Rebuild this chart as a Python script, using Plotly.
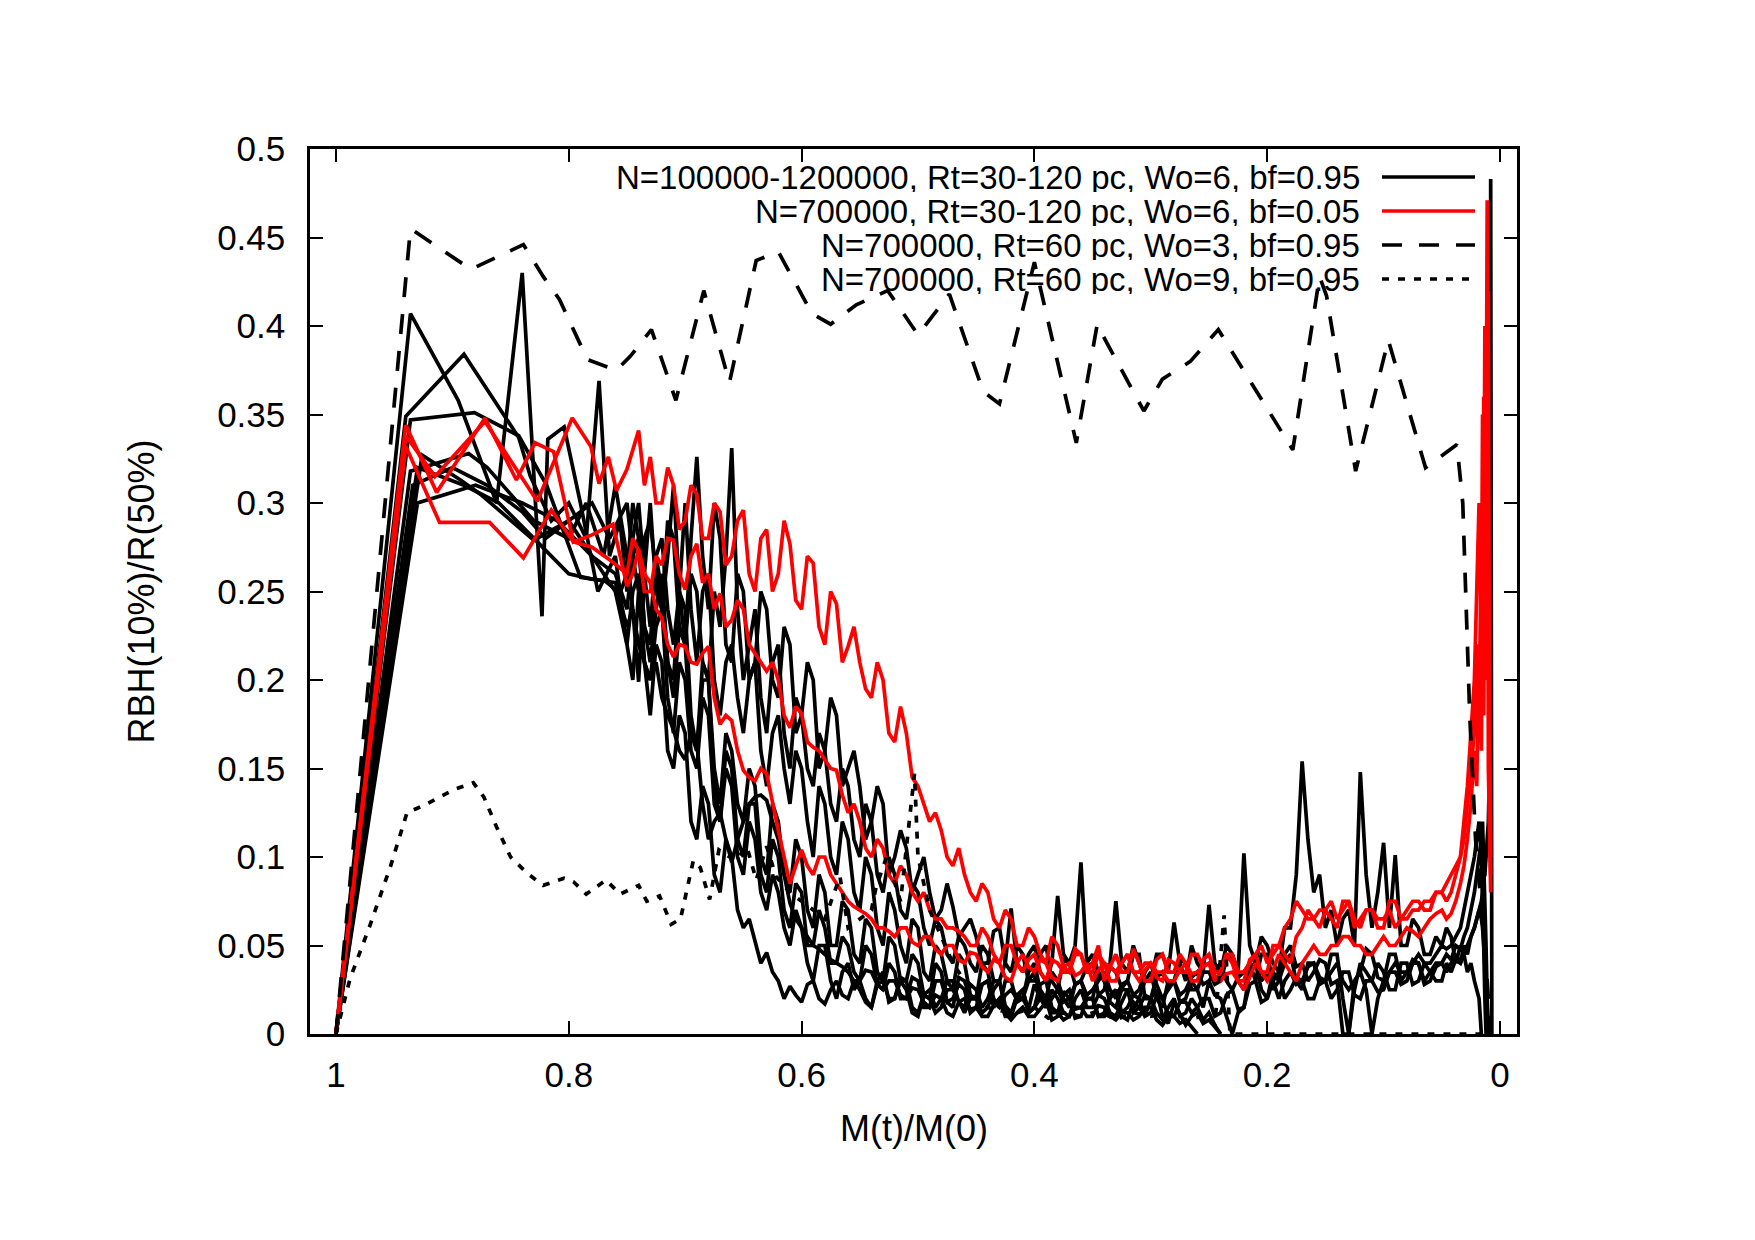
import plotly.graph_objects as go

# ---------------- data ----------------
# common sampling grid (late evolution, M(t)/M(0)) shared by the N-body runs
GRID = [0.750, 0.745, 0.740, 0.735, 0.730, 0.725, 0.720, 0.715, 0.710, 0.705,
        0.700, 0.695, 0.690, 0.685, 0.680, 0.675, 0.670, 0.665, 0.660, 0.655,
        0.650, 0.645, 0.640, 0.635, 0.630, 0.625, 0.620, 0.615, 0.610, 0.605,
        0.600, 0.595, 0.590, 0.585, 0.580, 0.575, 0.570, 0.565, 0.560, 0.555,
        0.550, 0.545, 0.540, 0.535, 0.530, 0.525, 0.520, 0.515, 0.510, 0.505,
        0.500, 0.495, 0.490, 0.485, 0.480, 0.475, 0.470, 0.465, 0.460, 0.455,
        0.450, 0.445, 0.440, 0.435, 0.430, 0.425, 0.420, 0.415, 0.410, 0.405,
        0.400, 0.395, 0.390, 0.385, 0.380, 0.375, 0.370, 0.365, 0.360, 0.355,
        0.350, 0.345, 0.340, 0.335, 0.330, 0.325, 0.320, 0.315, 0.310, 0.305,
        0.300, 0.295, 0.290, 0.285, 0.280, 0.275, 0.270, 0.265, 0.260, 0.255,
        0.250, 0.245, 0.240, 0.235, 0.230, 0.225, 0.220, 0.215, 0.210, 0.205,
        0.200, 0.195, 0.190, 0.185, 0.180, 0.175, 0.170, 0.165, 0.160, 0.155,
        0.150, 0.145, 0.140, 0.135, 0.130, 0.125, 0.120, 0.115, 0.110, 0.105,
        0.100, 0.095, 0.090, 0.085, 0.080, 0.075, 0.070, 0.065, 0.060, 0.055,
        0.050, 0.046, 0.042, 0.038, 0.034, 0.031, 0.028, 0.025, 0.022, 0.020,
        0.018, 0.016, 0.015, 0.014, 0.013, 0.012, 0.011, 0.010, 0.009, 0.008,
        0.007, 0.006]

# black runs: N=100000-1200000, Rt=30-120 pc, Wo=6, bf=0.95
k1_x0 = [1.0, 0.936, 0.895, 0.862, 0.84, 0.823, 0.818, 0.804, 0.79, 0.775, 0.76]
k1_y0 = [0.0, 0.407, 0.358, 0.30, 0.43, 0.236, 0.336, 0.343, 0.30, 0.25, 0.27]
k1_y = [0.22, 0.25, 0.26, 0.21, 0.20, 0.23, 0.24, 0.19, 0.17, 0.21,
        0.20, 0.16, 0.15, 0.19, 0.18, 0.13, 0.12, 0.15, 0.14, 0.10,
        0.09, 0.12, 0.11, 0.08, 0.07, 0.09, 0.08, 0.06, 0.05, 0.07,
        0.06, 0.04, 0.03, 0.05, 0.05, 0.03, 0.02, 0.035, 0.04, 0.025,
        0.03, 0.02, 0.015, 0.03, 0.035, 0.018, 0.02, 0.032, 0.03, 0.015,
        0.012, 0.022, 0.025, 0.015, 0.02, 0.03, 0.03, 0.018, 0.015, 0.028,
        0.025, 0.015, 0.02, 0.03, 0.03, 0.016, 0.012, 0.022, 0.02, 0.014,
        0.028, 0.02, 0.015, 0.025, 0.02, 0.012, 0.01, 0.02, 0.025, 0.015,
        0.015, 0.022, 0.02, 0.012, 0.01, 0.018, 0.025, 0.012, 0.015, 0.022,
        0.02, 0.012, 0.008, 0.015, 0.02, 0.01, 0.012, 0.02, 0.015, 0.008,
        0.012, 0.005, 0.0]

k2_x0 = [1.0, 0.94, 0.89, 0.843, 0.833, 0.815, 0.80, 0.785, 0.774, 0.765, 0.756]
k2_y0 = [0.0, 0.349, 0.384, 0.337, 0.315, 0.29, 0.30, 0.28, 0.369, 0.27, 0.29]
k2_y = [0.25, 0.28, 0.30, 0.26, 0.23, 0.27, 0.28, 0.24, 0.22, 0.25,
        0.30, 0.24, 0.21, 0.25, 0.26, 0.20, 0.18, 0.21, 0.22, 0.19,
        0.17, 0.20, 0.21, 0.16, 0.14, 0.17, 0.18, 0.15, 0.13, 0.16,
        0.15, 0.12, 0.10, 0.14, 0.13, 0.10, 0.09, 0.12, 0.11, 0.08,
        0.07, 0.10, 0.09, 0.06, 0.05, 0.08, 0.07, 0.05, 0.04, 0.065,
        0.06, 0.035, 0.03, 0.05, 0.045, 0.03, 0.025, 0.045, 0.04, 0.022,
        0.02, 0.04, 0.035, 0.02, 0.015, 0.03, 0.03, 0.018, 0.02, 0.035,
        0.04, 0.025, 0.02, 0.035, 0.03, 0.02, 0.015, 0.028, 0.03, 0.02,
        0.02, 0.035, 0.03, 0.018, 0.015, 0.025, 0.025, 0.014, 0.02, 0.03,
        0.035, 0.02, 0.015, 0.03, 0.03, 0.018, 0.02, 0.03, 0.025, 0.015,
        0.03, 0.022, 0.02, 0.01, 0.0, 0.012, 0.015, 0.035, 0.04, 0.025,
        0.02, 0.035, 0.03, 0.04, 0.045, 0.03, 0.025, 0.04, 0.04, 0.028,
        0.03, 0.045, 0.045, 0.02, 0.0, 0.025, 0.04, 0.035, 0.03, 0.04,
        0.035, 0.025, 0.025, 0.04, 0.04, 0.028, 0.03, 0.04, 0.035, 0.03,
        0.03, 0.04, 0.035, 0.042, 0.04, 0.045, 0.05, 0.055, 0.06, 0.065,
        0.07, 0.065, 0.06, 0.05, 0.04, 0.03, 0.015, 0.0]

k3_x0 = [1.0, 0.936, 0.881, 0.843, 0.819, 0.79, 0.769, 0.756]
k3_y0 = [0.0, 0.347, 0.351, 0.338, 0.31, 0.258, 0.256, 0.249]
k3_y = [0.26, 0.30, 0.28, 0.23, 0.22, 0.27, 0.25, 0.21, 0.20, 0.25,
        0.24, 0.18, 0.16, 0.21, 0.20, 0.15, 0.13, 0.17, 0.16, 0.13,
        0.12, 0.15, 0.14, 0.10, 0.09, 0.13, 0.12, 0.09, 0.08, 0.11,
        0.10, 0.07, 0.06, 0.09, 0.08, 0.05, 0.05, 0.075, 0.07, 0.045,
        0.04, 0.065, 0.06, 0.035, 0.03, 0.055, 0.05, 0.03, 0.03, 0.045,
        0.04, 0.022, 0.02, 0.04, 0.035, 0.018, 0.015, 0.032, 0.03, 0.02,
        0.02, 0.012, 0.015, 0.025, 0.03, 0.014, 0.01, 0.02, 0.025, 0.012,
        0.015, 0.028, 0.03, 0.015, 0.012, 0.024, 0.02, 0.009, 0.01, 0.02,
        0.02, 0.01, 0.012, 0.022, 0.025, 0.01, 0.008, 0.018, 0.015, 0.01,
        0.02, 0.025, 0.01, 0.006, 0.018, 0.012, 0.005, 0.01, 0.012, 0.006,
        0.008, 0.004, 0.0]

k4_x0 = [1.0, 0.926, 0.893, 0.876, 0.83, 0.80, 0.78, 0.765]
k4_y0 = [0.0, 0.327, 0.313, 0.305, 0.279, 0.29, 0.30, 0.28]
k4_y = [0.30, 0.27, 0.25, 0.28, 0.29, 0.26, 0.24, 0.27, 0.31, 0.25,
        0.22, 0.28, 0.326, 0.27, 0.24, 0.30, 0.28, 0.22, 0.21, 0.26,
        0.25, 0.20, 0.21, 0.25, 0.24, 0.20, 0.19, 0.23, 0.22, 0.17,
        0.18, 0.21, 0.20, 0.15, 0.16, 0.19, 0.18, 0.14, 0.15, 0.16,
        0.14, 0.11, 0.12, 0.14, 0.13, 0.09, 0.10, 0.115, 0.105, 0.08,
        0.09, 0.10, 0.08, 0.065, 0.07, 0.085, 0.072, 0.055, 0.06, 0.065,
        0.055, 0.04, 0.04, 0.058, 0.06, 0.04, 0.035, 0.05, 0.045, 0.03,
        0.03, 0.045, 0.05, 0.03, 0.025, 0.042, 0.04, 0.028, 0.03, 0.038,
        0.04, 0.022, 0.025, 0.038, 0.035, 0.026, 0.03, 0.045, 0.045, 0.02,
        0.02, 0.032, 0.035, 0.028, 0.03, 0.042, 0.04, 0.025, 0.025, 0.035,
        0.035, 0.028, 0.03, 0.042, 0.045, 0.03, 0.025, 0.038, 0.04, 0.03,
        0.035, 0.025, 0.03, 0.045, 0.05, 0.038, 0.04, 0.03, 0.035, 0.042,
        0.04, 0.028, 0.03, 0.0, 0.0, 0.03, 0.035, 0.048, 0.045, 0.032,
        0.03, 0.045, 0.045, 0.03, 0.035, 0.042, 0.04, 0.028, 0.03, 0.038,
        0.04, 0.045, 0.042, 0.05, 0.048, 0.055, 0.06, 0.07, 0.08, 0.09,
        0.10, 0.11, 0.12, 0.10, 0.08, 0.05, 0.02, 0.0]

k5_x0 = [1.0, 0.936, 0.886, 0.87, 0.83, 0.80, 0.785, 0.77, 0.76]
k5_y0 = [0.0, 0.318, 0.328, 0.32, 0.29, 0.28, 0.30, 0.27, 0.31]
k5_y = [0.27, 0.24, 0.199, 0.26, 0.30, 0.25, 0.24, 0.29, 0.28, 0.23,
        0.22, 0.26, 0.25, 0.21, 0.20, 0.25, 0.23, 0.27, 0.331, 0.24,
        0.20, 0.22, 0.24, 0.19, 0.17, 0.21, 0.22, 0.17, 0.15, 0.19,
        0.18, 0.15, 0.14, 0.17, 0.16, 0.13, 0.12, 0.15, 0.14, 0.11,
        0.10, 0.13, 0.12, 0.09, 0.08, 0.10, 0.09, 0.07, 0.065, 0.085,
        0.08, 0.06, 0.05, 0.065, 0.06, 0.045, 0.04, 0.055, 0.05, 0.04,
        0.035, 0.05, 0.045, 0.03, 0.03, 0.04, 0.071, 0.04, 0.035, 0.045,
        0.05, 0.035, 0.03, 0.04, 0.078, 0.045, 0.04, 0.05, 0.097, 0.04,
        0.045, 0.035, 0.03, 0.04, 0.075, 0.04, 0.035, 0.05, 0.04, 0.03,
        0.03, 0.045, 0.045, 0.035, 0.063, 0.04, 0.03, 0.05, 0.04, 0.035,
        0.073, 0.04, 0.035, 0.05, 0.045, 0.035, 0.102, 0.05, 0.04, 0.055,
        0.05, 0.04, 0.035, 0.06, 0.06, 0.09, 0.154, 0.11, 0.08, 0.09,
        0.06, 0.07, 0.05, 0.065, 0.07, 0.05, 0.148, 0.09, 0.06, 0.08,
        0.108, 0.06, 0.101, 0.05, 0.05, 0.065, 0.06, 0.045, 0.045, 0.055,
        0.05, 0.06, 0.055, 0.04, 0.05, 0.045, 0.035, 0.04, 0.03, 0.025,
        0.02, 0.0]

k6_x0 = [1.0, 0.934, 0.90, 0.87, 0.84, 0.82, 0.80, 0.78, 0.76]
k6_y0 = [0.0, 0.31, 0.32, 0.31, 0.295, 0.28, 0.29, 0.27, 0.26]
k6_y = [0.24, 0.27, 0.28, 0.23, 0.21, 0.24, 0.26, 0.21, 0.19, 0.23,
        0.22, 0.17, 0.16, 0.20, 0.20, 0.14, 0.12, 0.16, 0.15, 0.11,
        0.10, 0.13, 0.13, 0.09, 0.08, 0.11, 0.10, 0.07, 0.06, 0.085,
        0.08, 0.05, 0.05, 0.07, 0.06, 0.04, 0.04, 0.055, 0.05, 0.035,
        0.03, 0.05, 0.045, 0.028, 0.025, 0.04, 0.035, 0.02, 0.02, 0.032,
        0.03, 0.015, 0.015, 0.03, 0.03, 0.018, 0.02, 0.028, 0.025, 0.012,
        0.015, 0.028, 0.03, 0.015, 0.02, 0.01, 0.01, 0.022, 0.025, 0.012,
        0.015, 0.02, 0.02, 0.008, 0.01, 0.022, 0.025, 0.014, 0.015, 0.02,
        0.02, 0.01, 0.01, 0.02, 0.025, 0.012, 0.015, 0.022, 0.02, 0.01,
        0.012, 0.022, 0.02, 0.01, 0.01, 0.018, 0.018, 0.012, 0.015, 0.02,
        0.02, 0.01, 0.012, 0.022, 0.025, 0.014, 0.015, 0.028, 0.03, 0.018,
        0.02, 0.03, 0.035, 0.02, 0.025, 0.032, 0.03, 0.02, 0.02, 0.03,
        0.03, 0.02, 0.025, 0.035, 0.035, 0.022, 0.02, 0.03, 0.03, 0.024,
        0.025, 0.035, 0.035, 0.028, 0.03, 0.04, 0.04, 0.03, 0.035, 0.04,
        0.04, 0.035, 0.04, 0.045, 0.04, 0.05, 0.045, 0.055, 0.06, 0.065,
        0.07, 0.075, 0.08, 0.09, 0.09, 0.10, 0.11, 0.12, 0.15, 0.483,
        0.0]

k7_x0 = [1.0, 0.93, 0.89, 0.86, 0.83, 0.80, 0.78, 0.76]
k7_y0 = [0.0, 0.32, 0.31, 0.30, 0.28, 0.26, 0.257, 0.255]
k7_y = [0.23, 0.24, 0.22, 0.21, 0.20, 0.21, 0.19, 0.18, 0.172, 0.16,
        0.155, 0.17, 0.165, 0.13, 0.11, 0.12, 0.125, 0.11, 0.097, 0.11,
        0.12, 0.13, 0.134, 0.135, 0.132, 0.12, 0.11, 0.09, 0.074, 0.065,
        0.06, 0.055, 0.05, 0.048, 0.045, 0.042, 0.04, 0.038, 0.035, 0.03,
        0.03, 0.036, 0.035, 0.028, 0.025, 0.03, 0.03, 0.022, 0.02, 0.026,
        0.025, 0.018, 0.015, 0.022, 0.02, 0.012, 0.01, 0.018, 0.02, 0.014,
        0.015, 0.01, 0.01, 0.016, 0.02, 0.012, 0.008, 0.012, 0.015, 0.01,
        0.01, 0.014, 0.018, 0.012, 0.012, 0.008, 0.01, 0.015, 0.015, 0.01,
        0.01, 0.016, 0.015, 0.01, 0.008, 0.012, 0.012, 0.008, 0.01, 0.015,
        0.015, 0.008, 0.005, 0.01, 0.01, 0.006, 0.008, 0.004, 0.0]

k8_x0 = [1.0, 0.93, 0.88, 0.84, 0.81, 0.78, 0.76]
k8_y0 = [0.0, 0.30, 0.31, 0.30, 0.29, 0.27, 0.25]
k8_y = [0.22, 0.20, 0.25, 0.21, 0.18, 0.22, 0.21, 0.16, 0.15, 0.18,
        0.17, 0.12, 0.11, 0.14, 0.13, 0.09, 0.08, 0.11, 0.10, 0.07,
        0.06, 0.065, 0.053, 0.04, 0.046, 0.035, 0.03, 0.02, 0.027, 0.022,
        0.018, 0.028, 0.03, 0.02, 0.017, 0.025, 0.03, 0.022, 0.02, 0.03,
        0.025, 0.018, 0.015, 0.028, 0.03, 0.02, 0.02, 0.03, 0.025, 0.012,
        0.01, 0.022, 0.02, 0.012, 0.015, 0.025, 0.025, 0.018, 0.012, 0.02,
        0.02, 0.028, 0.03, 0.018, 0.015, 0.022, 0.025, 0.02, 0.02, 0.03,
        0.035, 0.022, 0.015, 0.02, 0.025, 0.018, 0.02, 0.028, 0.03, 0.022,
        0.025, 0.03, 0.035, 0.025, 0.02, 0.028, 0.03, 0.022, 0.025, 0.035,
        0.04, 0.028, 0.02, 0.025, 0.03, 0.022, 0.025, 0.032, 0.035, 0.028,
        0.03, 0.035, 0.04, 0.03, 0.025, 0.032, 0.035, 0.04, 0.03, 0.045,
        0.045, 0.03, 0.02, 0.03, 0.035, 0.028, 0.03, 0.038, 0.04, 0.032,
        0.03, 0.035, 0.04, 0.03, 0.025, 0.03, 0.035, 0.025, 0.0, 0.02,
        0.03, 0.035, 0.04, 0.035, 0.035, 0.04, 0.045, 0.04, 0.04, 0.045,
        0.05, 0.048, 0.05, 0.055, 0.06, 0.07, 0.08, 0.09, 0.10, 0.11,
        0.12, 0.10, 0.08, 0.05, 0.02, 0.0]

# red runs: N=700000, Rt=30-120 pc, Wo=6, bf=0.05
r1_x0 = [1.0, 0.94, 0.915, 0.872, 0.827, 0.797, 0.781, 0.774, 0.766, 0.759]
r1_y0 = [0.0, 0.338, 0.315, 0.346, 0.301, 0.348, 0.332, 0.311, 0.326, 0.307]
r1_y = [0.319, 0.33, 0.341, 0.31, 0.326, 0.30, 0.30, 0.32, 0.31, 0.285,
        0.29, 0.31, 0.305, 0.28, 0.28, 0.30, 0.295, 0.265, 0.27, 0.29,
        0.296, 0.26, 0.25, 0.28, 0.285, 0.25, 0.26, 0.29, 0.277, 0.245,
        0.24, 0.27, 0.266, 0.23, 0.22, 0.25, 0.243, 0.21, 0.219, 0.23,
        0.21, 0.195, 0.19, 0.21, 0.20, 0.17, 0.165, 0.185, 0.17, 0.145,
        0.14, 0.13, 0.12, 0.125, 0.115, 0.10, 0.095, 0.105, 0.09, 0.08,
        0.075, 0.085, 0.08, 0.065, 0.06, 0.07, 0.065, 0.05, 0.05, 0.06,
        0.055, 0.045, 0.04, 0.055, 0.05, 0.038, 0.035, 0.048, 0.045, 0.035,
        0.04, 0.05, 0.03, 0.038, 0.045, 0.035, 0.035, 0.048, 0.04, 0.03,
        0.03, 0.042, 0.045, 0.035, 0.035, 0.045, 0.04, 0.03, 0.03, 0.042,
        0.045, 0.035, 0.035, 0.045, 0.04, 0.03, 0.03, 0.042, 0.045, 0.035,
        0.035, 0.05, 0.05, 0.045, 0.04, 0.055, 0.06, 0.07, 0.065, 0.06,
        0.07, 0.065, 0.06, 0.075, 0.075, 0.06, 0.065, 0.07, 0.07, 0.06,
        0.06, 0.075, 0.075, 0.065, 0.065, 0.07, 0.07, 0.075, 0.075, 0.08,
        0.08, 0.085, 0.09, 0.095, 0.10, 0.12, 0.14, 0.17, 0.20, 0.25,
        0.30, 0.22, 0.35, 0.25, 0.40, 0.30, 0.471, 0.28, 0.15, 0.10]

r2_x0 = [1.0, 0.94, 0.911, 0.868, 0.839, 0.815, 0.796, 0.78, 0.765]
r2_y0 = [0.0, 0.332, 0.289, 0.289, 0.269, 0.296, 0.278, 0.275, 0.268]
r2_y = [0.26, 0.28, 0.273, 0.25, 0.25, 0.27, 0.265, 0.28, 0.279, 0.26,
        0.251, 0.27, 0.277, 0.255, 0.26, 0.24, 0.249, 0.23, 0.234, 0.245,
        0.24, 0.22, 0.215, 0.21, 0.205, 0.21, 0.20, 0.18, 0.173, 0.185,
        0.181, 0.165, 0.162, 0.16, 0.155, 0.15, 0.149, 0.135, 0.125, 0.13,
        0.12, 0.105, 0.10, 0.11, 0.105, 0.09, 0.085, 0.095, 0.09, 0.08,
        0.075, 0.08, 0.07, 0.065, 0.065, 0.06, 0.06, 0.058, 0.055, 0.05,
        0.05, 0.06, 0.055, 0.045, 0.04, 0.05, 0.05, 0.04, 0.035, 0.042,
        0.045, 0.035, 0.03, 0.042, 0.04, 0.035, 0.035, 0.045, 0.045, 0.035,
        0.035, 0.045, 0.04, 0.03, 0.03, 0.04, 0.045, 0.035, 0.035, 0.04,
        0.04, 0.032, 0.03, 0.042, 0.04, 0.035, 0.035, 0.045, 0.045, 0.038,
        0.04, 0.03, 0.035, 0.045, 0.045, 0.035, 0.035, 0.04, 0.045, 0.05,
        0.04, 0.045, 0.05, 0.06, 0.065, 0.075, 0.07, 0.065, 0.065, 0.07,
        0.07, 0.075, 0.065, 0.07, 0.075, 0.065, 0.06, 0.07, 0.07, 0.065,
        0.065, 0.07, 0.06, 0.065, 0.07, 0.075, 0.075, 0.07, 0.07, 0.08,
        0.08, 0.075, 0.08, 0.09, 0.10, 0.11, 0.13, 0.15, 0.17, 0.22,
        0.18, 0.28, 0.20, 0.36, 0.22, 0.32, 0.20, 0.42, 0.12, 0.09]

r3_x0 = [1.0, 0.94, 0.9135, 0.872, 0.845, 0.829, 0.813, 0.796, 0.78, 0.762]
r3_y0 = [0.0, 0.344, 0.306, 0.348, 0.313, 0.334, 0.329, 0.278, 0.282, 0.288]
r3_y = [0.253, 0.26, 0.274, 0.26, 0.255, 0.24, 0.235, 0.22, 0.213, 0.22,
        0.219, 0.21, 0.209, 0.215, 0.219, 0.19, 0.175, 0.18, 0.177, 0.16,
        0.149, 0.145, 0.143, 0.15, 0.147, 0.13, 0.115, 0.10, 0.085, 0.095,
        0.104, 0.095, 0.09, 0.10, 0.10, 0.09, 0.085, 0.08, 0.075, 0.072,
        0.07, 0.068, 0.065, 0.06, 0.06, 0.058, 0.055, 0.06, 0.06, 0.052,
        0.05, 0.055, 0.055, 0.048, 0.045, 0.05, 0.05, 0.042, 0.04, 0.046,
        0.045, 0.038, 0.035, 0.042, 0.04, 0.032, 0.03, 0.04, 0.045, 0.038,
        0.035, 0.042, 0.04, 0.032, 0.03, 0.038, 0.04, 0.033, 0.035, 0.04,
        0.03, 0.036, 0.04, 0.038, 0.035, 0.04, 0.045, 0.035, 0.03, 0.036,
        0.04, 0.035, 0.035, 0.03, 0.03, 0.036, 0.04, 0.034, 0.035, 0.038,
        0.04, 0.033, 0.03, 0.034, 0.035, 0.03, 0.025, 0.032, 0.04, 0.035,
        0.03, 0.036, 0.045, 0.04, 0.035, 0.03, 0.04, 0.045, 0.05, 0.045,
        0.045, 0.05, 0.05, 0.055, 0.055, 0.05, 0.05, 0.045, 0.045, 0.05,
        0.055, 0.05, 0.05, 0.055, 0.06, 0.058, 0.055, 0.06, 0.065, 0.068,
        0.07, 0.065, 0.068, 0.075, 0.085, 0.095, 0.11, 0.13, 0.16, 0.14,
        0.22, 0.16, 0.28, 0.18, 0.30, 0.20, 0.40, 0.15, 0.10, 0.08]

# dashed run: N=700000, Rt=60 pc, Wo=3, bf=0.95
wo3_x = [1.0, 0.936, 0.884, 0.864, 0.839, 0.822, 0.808, 0.784, 0.759, 0.747, 0.729, 0.708,
         0.684, 0.662, 0.639, 0.62, 0.591, 0.575, 0.553, 0.526, 0.50, 0.473, 0.444, 0.43,
         0.40, 0.364, 0.346, 0.339, 0.306, 0.29, 0.266, 0.242, 0.196, 0.178, 0.155, 0.149,
         0.124, 0.096, 0.064, 0.037, 0.032, 0.026, 0.021, 0.017, 0.012, 0.008]
wo3_y = [0.0, 0.455, 0.432, 0.438, 0.446, 0.428, 0.415, 0.381, 0.375, 0.383, 0.398, 0.358,
         0.42, 0.368, 0.437, 0.442, 0.407, 0.401, 0.412, 0.42, 0.395, 0.418, 0.363, 0.356,
         0.436, 0.334, 0.401, 0.392, 0.352, 0.37, 0.38, 0.398, 0.349, 0.33, 0.428, 0.417,
         0.318, 0.392, 0.32, 0.333, 0.30, 0.18, 0.11, 0.08, 0.04, 0.0]

# dotted run: N=700000, Rt=60 pc, Wo=9, bf=0.95
wo9_x = [1.0, 0.988, 0.971, 0.953, 0.939, 0.925, 0.899, 0.882, 0.873, 0.862, 0.85, 0.836,
         0.822, 0.804, 0.796, 0.785, 0.768, 0.756, 0.74, 0.733, 0.722, 0.712, 0.704, 0.693,
         0.687, 0.679, 0.671, 0.657, 0.647, 0.639, 0.63, 0.622, 0.61, 0.60, 0.59, 0.58,
         0.567, 0.56, 0.55, 0.54, 0.536, 0.527, 0.515, 0.503, 0.50, 0.49, 0.48, 0.47,
         0.46, 0.45, 0.44, 0.428, 0.415, 0.40, 0.388, 0.375, 0.36, 0.345, 0.33, 0.315,
         0.30, 0.285, 0.27, 0.255, 0.245, 0.237, 0.232, 0.225, 0.20, 0.15, 0.10, 0.05, 0.015]
wo9_y = [0.0, 0.031, 0.061, 0.095, 0.125, 0.129, 0.138, 0.142, 0.134, 0.117, 0.10, 0.091,
         0.084, 0.088, 0.086, 0.079, 0.087, 0.079, 0.084, 0.075, 0.078, 0.062, 0.065, 0.098,
         0.094, 0.076, 0.104, 0.098, 0.106, 0.087, 0.106, 0.089, 0.08, 0.075, 0.07, 0.065,
         0.089, 0.06, 0.065, 0.07, 0.083, 0.10, 0.075, 0.147, 0.10, 0.07, 0.055, 0.04,
         0.03, 0.02, 0.015, 0.013, 0.012, 0.015, 0.009, 0.012, 0.01, 0.013, 0.008, 0.012,
         0.01, 0.012, 0.008, 0.01, 0.005, 0.067, 0.0, 0.0, 0.0, 0.0, 0.0, 0.0, 0.0]

X_TICKS = [1, 0.8, 0.6, 0.4, 0.2, 0]
X_TICKTEXT = ["1", "0.8", "0.6", "0.4", "0.2", "0"]
Y_TICKS = [0, 0.05, 0.1, 0.15, 0.2, 0.25, 0.3, 0.35, 0.4, 0.45, 0.5]
Y_TICKTEXT = ["0", "0.05", "0.1", "0.15", "0.2", "0.25", "0.3", "0.35", "0.4", "0.45", "0.5"]

LEGEND_LABELS = ["N=100000-1200000, Rt=30-120 pc, Wo=6, bf=0.95",
                 "N=700000, Rt=30-120 pc, Wo=6, bf=0.05",
                 "N=700000, Rt=60 pc, Wo=3, bf=0.95",
                 "N=700000, Rt=60 pc, Wo=9, bf=0.95"]
LEGEND_COLORS = ["#000000", "#ff0000", "#000000", "#000000"]
LEGEND_DASH = ["solid", "solid", "20px,17px", "7px,9px"]

# ---------------- figure ----------------
FONT = "Liberation Sans, Arial, sans-serif"
LW = 3.7
fig = go.Figure()

black_runs = [(k1_x0, k1_y0, k1_y), (k2_x0, k2_y0, k2_y), (k3_x0, k3_y0, k3_y),
              (k4_x0, k4_y0, k4_y), (k5_x0, k5_y0, k5_y), (k6_x0, k6_y0, k6_y),
              (k7_x0, k7_y0, k7_y), (k8_x0, k8_y0, k8_y)]
red_runs = [(r1_x0, r1_y0, r1_y), (r2_x0, r2_y0, r2_y), (r3_x0, r3_y0, r3_y)]


def add_run(x0, y0, late, color, dash="solid"):
    x = list(x0) + GRID[:len(late)]
    y = list(y0) + list(late)
    fig.add_trace(go.Scatter(x=x, y=y, mode="lines",
                             line=dict(color=color, width=LW, dash=dash),
                             hoverinfo="skip", showlegend=False))


for x0, y0, late in black_runs:
    add_run(x0, y0, late, "#000000")
for x0, y0, late in red_runs:
    add_run(x0, y0, late, "#ff0000")

fig.add_trace(go.Scatter(x=wo3_x, y=wo3_y, mode="lines",
                         line=dict(color="#000000", width=LW, dash=LEGEND_DASH[2]),
                         showlegend=False))
fig.add_trace(go.Scatter(x=wo9_x, y=wo9_y, mode="lines",
                         line=dict(color="#000000", width=LW, dash=LEGEND_DASH[3]),
                         showlegend=False))

# layout geometry (pixels)
W, H = 1755, 1240
L, R, T, B = 310, 1517, 149, 1034
pw, ph = R - L, B - T


def px(xp):
    return (xp - L) / pw


def py(yp):
    return (B - yp) / ph


annotations = []
shapes = []
row_y = [177, 211, 245, 279]
for lab, col, dsh, yy in zip(LEGEND_LABELS, LEGEND_COLORS, LEGEND_DASH, row_y):
    annotations.append(dict(x=px(1362), y=py(yy), xref="paper", yref="paper",
                            text=lab, showarrow=False, xanchor="right", yanchor="middle",
                            height=30, valign="middle",
                            font=dict(family=FONT, size=33, color="#000000")))
    shapes.append(dict(type="line", xref="paper", yref="paper",
                       x0=px(1382), x1=px(1475), y0=py(yy), y1=py(yy),
                       line=dict(color=col, width=LW, dash=dsh), layer="above"))

annotations.append(dict(x=0.5, y=py(1128), xref="paper", yref="paper", text="M(t)/M(0)",
                        showarrow=False, xanchor="center", yanchor="middle",
                        font=dict(family=FONT, size=36, color="#000000")))
annotations.append(dict(x=px(141), y=0.5, xref="paper", yref="paper", text="RBH(10%)/R(50%)",
                        showarrow=False, xanchor="center", yanchor="middle", textangle=-90,
                        font=dict(family=FONT, size=36, color="#000000")))

axis_common = dict(showgrid=False, zeroline=False, showline=True, linecolor="#000000",
                   linewidth=2.5, ticks="inside", ticklen=13, tickwidth=2, tickcolor="#000000",
                   mirror="ticks", tickfont=dict(family=FONT, size=35, color="#000000"))

fig.update_layout(
    width=W, height=H,
    margin=dict(l=L, r=W - R, t=T, b=H - B, pad=0),
    paper_bgcolor="white", plot_bgcolor="white",
    showlegend=False,
    xaxis=dict(range=[1.0223, -0.0146], tickvals=X_TICKS, ticktext=X_TICKTEXT,
               ticklabelstandoff=8, **axis_common),
    yaxis=dict(range=[0, 0.5], tickvals=Y_TICKS, ticktext=Y_TICKTEXT,
               ticklabelstandoff=15, **axis_common),
    annotations=annotations,
    shapes=shapes,
)

fig.write_html("out.html", include_plotlyjs=True)
